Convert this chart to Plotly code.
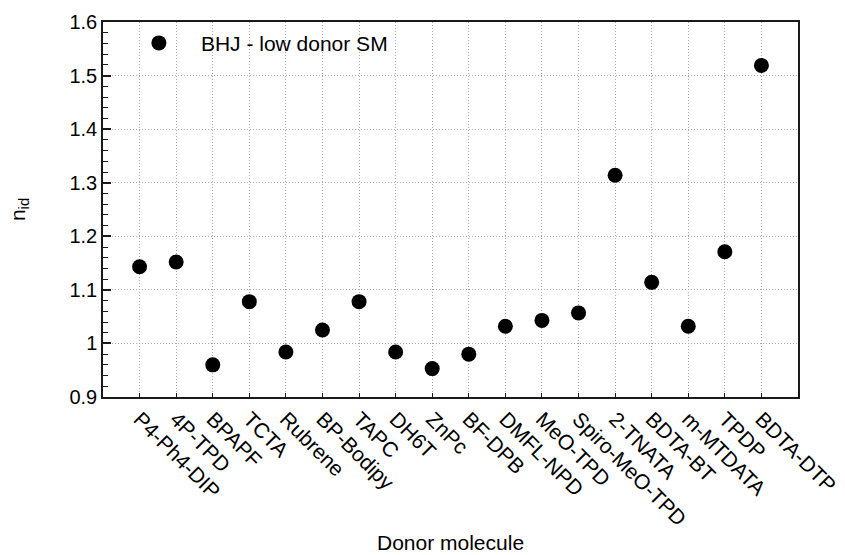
import plotly.graph_objects as go

# Donor molecules and their ideality factors
donors = [
    "P4-Ph4-DIP", "4P-TPD", "BPAPF", "TCTA", "Rubrene", "BP-Bodipy", "TAPC",
    "DH6T", "ZnPc", "BF-DPB", "DMFL-NPD", "MeO-TPD", "Spiro-MeO-TPD",
    "2-TNATA", "BDTA-BT", "m-MTDATA", "TPDP", "BDTA-DTP",
]
n_id = [
    1.143, 1.152, 0.960, 1.078, 0.984, 1.025, 1.078,
    0.984, 0.953, 0.980, 1.032, 1.043, 1.057,
    1.314, 1.114, 1.032, 1.171, 1.519,
]
series_name = "BHJ - low donor SM"
x_title = "Donor molecule"

FONT = "Liberation Sans, Arial, sans-serif"
GRID = "#a8a8a8"
AXIS = "#1a1a1a"
idx = list(range(len(donors)))

fig = go.Figure()
fig.add_trace(go.Scatter(
    x=idx, y=n_id, mode="markers", name=series_name,
    marker=dict(color="black", size=15, line=dict(width=0)),
))

fig.update_layout(
    width=845, height=555,
    margin=dict(l=103, r=47, t=22, b=158),
    paper_bgcolor="white", plot_bgcolor="white",
    font=dict(family=FONT, size=21, color="black"),
    showlegend=True,
    legend=dict(
        x=0.02, y=0.998, xanchor="left", yanchor="top",
        bgcolor="rgba(0,0,0,0)", font=dict(size=21, family=FONT),
        itemsizing="trace", itemwidth=74,
    ),
)

# x-axis title placed below the rotated category labels
fig.add_annotation(
    text=x_title, xref="paper", yref="paper", x=0.5, y=-0.388,
    xanchor="center", yanchor="middle", showarrow=False,
    borderpad=0, font=dict(size=21, family=FONT, color="black"),
)

fig.update_xaxes(
    range=[-1, len(donors)], automargin=False,
    tickmode="array", tickvals=idx, ticktext=donors,
    tickangle=45, tickfont=dict(size=21),
    ticks="inside", ticklen=4, tickcolor=AXIS, tickwidth=1,
    showline=True, linecolor=AXIS, linewidth=1.5, mirror=True,
    showgrid=True, gridcolor=GRID, gridwidth=1, griddash="1px,2px",
    zeroline=False,
)

fig.update_yaxes(
    range=[0.9, 1.6], automargin=False,
    tickmode="linear", tick0=0.9, dtick=0.1,
    tickfont=dict(size=20),
    ticks="inside", ticklen=8, tickcolor=AXIS, tickwidth=1.5,
    minor=dict(tick0=0.9, dtick=0.02, ticks="inside", ticklen=5,
               tickcolor=AXIS, tickwidth=1.2, showgrid=False),
    showline=True, linecolor=AXIS, linewidth=1.5, mirror=True,
    showgrid=True, gridcolor=GRID, gridwidth=1, griddash="1px,2px",
    zeroline=False,
    title=dict(text="n<sub>id</sub>", font=dict(size=21), standoff=38),
)

fig.write_html("out.html")
